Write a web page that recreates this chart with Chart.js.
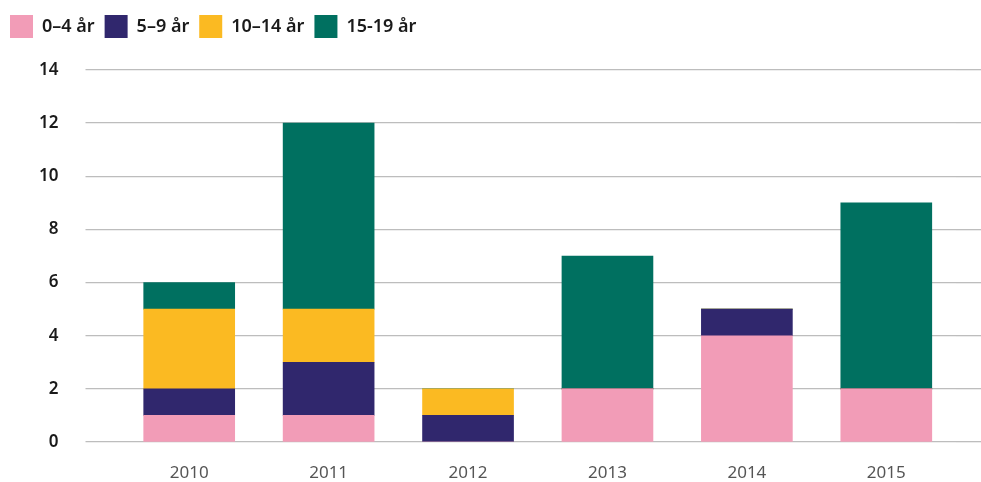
<!DOCTYPE html>
<html>
<head>
<meta charset="utf-8">
<script src="https://cdn.jsdelivr.net/npm/chart.js@4/dist/chart.umd.min.js"></script>
<style>
html,body{margin:0;padding:0;background:#fff}
#wrap{width:981px;height:482px;position:relative}
</style>
</head>
<body>
<div id="wrap"><canvas id="AgeChart"></canvas></div>
<script>
//            Data
const YEARS=['2010','2011','2012','2013','2014','2015']
const AGE0_4=[1,1,0,2,4,2]
const AGE5_9=[1,2,1,0,1,0]
const AGE10_14=[3,2,1,0,0,0]
const AGE15_19=[1,7,0,5,0,7]
const SERIES_NAMES=['0–4 år','5–9 år','10–14 år','15-19 år']
const SERIES_COLOURS=['#F29CB7','#30276D','#FBBA22','#007060']

const FONT="'Noto Sans', sans-serif"
const GRID='#bdbdbd'

function MakeSet(i,d){return {label:SERIES_NAMES[i],data:d,backgroundColor:SERIES_COLOURS[i],borderWidth:0,barThickness:91}}

// legend takes more room below it than chart.js gives by default
const legendSpace={id:'legendSpace',beforeInit(chart){const f=chart.legend.fit;chart.legend.fit=function(){f.bind(chart.legend)();this.height+=22}}}

let AgeChart=new Chart(document.getElementById('AgeChart'),{
	type:'bar',
	plugins:[legendSpace],
	data:{
		labels:YEARS,
		datasets:[MakeSet(0,AGE0_4),MakeSet(1,AGE5_9),MakeSet(2,AGE10_14),MakeSet(3,AGE15_19)]
	},
	options:{
		responsive:true,
		maintainAspectRatio:false,
		animation:false,
		layout:{padding:{left:0,right:0,top:5,bottom:0}},
		plugins:{
			tooltip:{enabled:false},
			legend:{
				position:'top',
				align:'start',
				labels:{boxWidth:23,boxHeight:23,padding:10,color:'#1a1a1a',font:{family:FONT,size:18,weight:'600'}}
			}
		},
		scales:{
			x:{
				stacked:true,
				grid:{display:false,drawTicks:false},
				border:{display:false},
				ticks:{color:'#555',padding:21,font:{family:FONT,size:17}},
				afterFit(s){s.height=40}
			},
			y:{
				stacked:true,
				min:0,max:14,
				border:{display:false},
				grid:{color:GRID,lineWidth:1.3,tickLength:34,tickColor:GRID},
				ticks:{stepSize:2,color:'#1a1a1a',padding:27,font:{family:FONT,size:17,weight:'600'}},
				afterFit(s){s.width=119.5}
			},
			yRight:{
				position:'right',
				min:0,max:14,
				border:{display:false},
				grid:{drawOnChartArea:false,lineWidth:1.3,tickLength:25,color:GRID,tickColor:GRID},
				ticks:{stepSize:2,display:false},
				afterFit(s){s.width=25}
			}
		}
	}
})
</script>
</body>
</html>
